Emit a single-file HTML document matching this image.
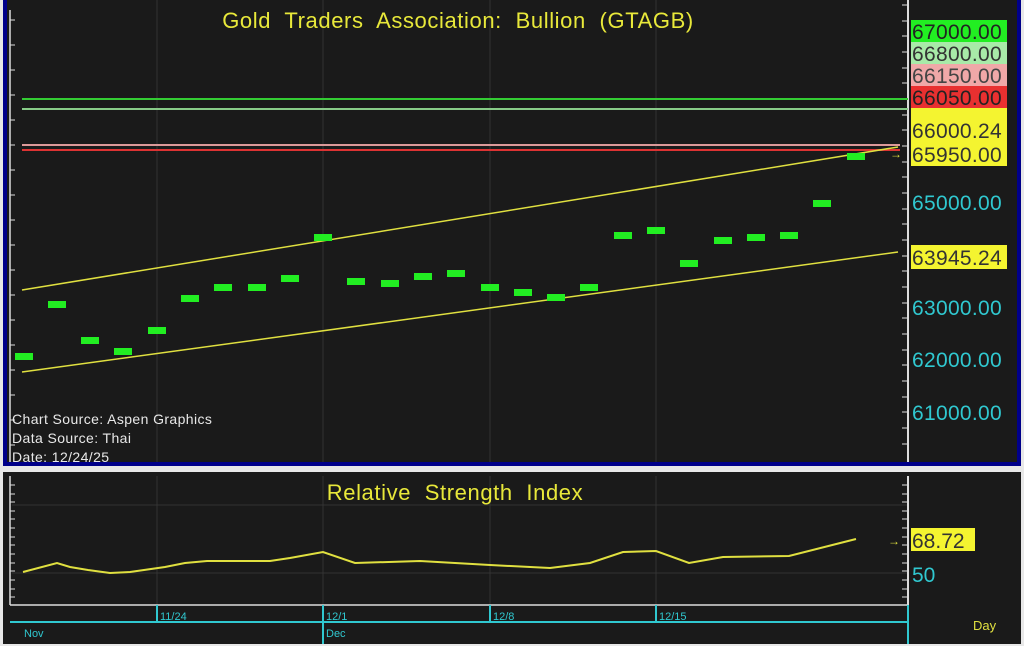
<!DOCTYPE html>
<html><head><style>
body{margin:0;background:#fff;}
svg{display:block;font-family:"Liberation Sans",sans-serif;}
</style></head><body>
<svg width="1024" height="646" viewBox="0 0 1024 646">
<rect x="0" y="0" width="1024" height="646" fill="#e8e8e8"/>
<rect x="3" y="0" width="1018" height="466" fill="#00008a"/>
<rect x="7" y="0" width="1010" height="462" fill="#1a1a1a"/>
<g stroke="#333" stroke-width="1">
<line x1="157" y1="0" x2="157" y2="462"/><line x1="323" y1="0" x2="323" y2="462"/>
<line x1="490" y1="0" x2="490" y2="462"/><line x1="656" y1="0" x2="656" y2="462"/>
</g>
<line x1="908" y1="0" x2="908" y2="462" stroke="#ddd" stroke-width="2"/>
<line x1="10" y1="10" x2="10" y2="462" stroke="#ddd" stroke-width="1.5"/>
<g stroke="#ddd" stroke-width="1">
<path d="M902 5h6M902 21h6M902 36h6M902 52h6M902 68h6M902 83h6M902 99h6M902 115h6M902 130h6M902 146h6M902 162h6M902 177h6M902 193h6M902 209h6M902 224h6M902 240h6M902 256h6M902 271h6M902 287h6M902 303h6M902 318h6M902 334h6M902 350h6M902 365h6M902 381h6M902 397h6M902 412h6M902 428h6M902 444h6"/>
<path d="M10 20h5M10 45h5M10 70h5M10 95h5M10 120h5M10 145h5M10 170h5M10 195h5M10 220h5M10 245h5M10 270h5M10 295h5M10 320h5M10 345h5M10 370h5M10 395h5M10 420h5M10 445h5"/>
</g>
<text x="458" y="28" fill="#e8e83a" font-size="22" text-anchor="middle" word-spacing="7" letter-spacing="0.6">Gold Traders Association: Bullion (GTAGB)</text>
<line x1="22" y1="99" x2="908" y2="99" stroke="#3c3" stroke-width="2"/>
<line x1="22" y1="109" x2="908" y2="109" stroke="#8c8" stroke-width="2"/>
<line x1="22" y1="145" x2="900" y2="145" stroke="#d99" stroke-width="2"/>
<line x1="22" y1="150" x2="900" y2="150" stroke="#d33" stroke-width="2"/>
<line x1="22" y1="290" x2="898" y2="147" stroke="#e0e040" stroke-width="1.5"/>
<line x1="22" y1="372" x2="898" y2="252" stroke="#e0e040" stroke-width="1.5"/>
<text x="902" y="158" fill="#e0e040" font-size="12" text-anchor="end">→</text>
<g fill="#22ee22">
<rect x="15" y="353" width="18" height="7"/><rect x="48" y="301" width="18" height="7"/><rect x="81" y="337" width="18" height="7"/><rect x="114" y="348" width="18" height="7"/><rect x="148" y="327" width="18" height="7"/><rect x="181" y="295" width="18" height="7"/><rect x="214" y="284" width="18" height="7"/><rect x="248" y="284" width="18" height="7"/><rect x="281" y="275" width="18" height="7"/><rect x="314" y="234" width="18" height="7"/><rect x="347" y="278" width="18" height="7"/><rect x="381" y="280" width="18" height="7"/><rect x="414" y="273" width="18" height="7"/><rect x="447" y="270" width="18" height="7"/><rect x="481" y="284" width="18" height="7"/><rect x="514" y="289" width="18" height="7"/><rect x="547" y="294" width="18" height="7"/><rect x="580" y="284" width="18" height="7"/><rect x="614" y="232" width="18" height="7"/><rect x="647" y="227" width="18" height="7"/><rect x="680" y="260" width="18" height="7"/><rect x="714" y="237" width="18" height="7"/><rect x="747" y="234" width="18" height="7"/><rect x="780" y="232" width="18" height="7"/><rect x="813" y="200" width="18" height="7"/><rect x="847" y="153" width="18" height="7"/>
</g>
<g font-size="21" letter-spacing="0.3">
<rect x="911" y="20" width="96" height="22" fill="#22ee22"/><text x="912" y="39" fill="#222">67000.00</text>
<rect x="911" y="42" width="96" height="22" fill="#a8eaa8"/><text x="912" y="61" fill="#333">66800.00</text>
<rect x="911" y="64" width="96" height="22" fill="#f0a8a8"/><text x="912" y="83" fill="#444">66150.00</text>
<rect x="911" y="86" width="96" height="22" fill="#e83030"/><text x="912" y="105" fill="#222">66050.00</text>
<rect x="911" y="108" width="96" height="58" fill="#f4f430"/><text x="912" y="138" fill="#333">66000.24</text><text x="912" y="162" fill="#333">65950.00</text>
<text x="912" y="210" fill="#30c8d0">65000.00</text>
<rect x="911" y="245" width="96" height="24" fill="#f4f430"/><text x="912" y="265" fill="#333">63945.24</text>
<text x="912" y="315" fill="#30c8d0">63000.00</text>
<text x="912" y="367" fill="#30c8d0">62000.00</text>
<text x="912" y="420" fill="#30c8d0">61000.00</text>
</g>
<g font-size="14" fill="#e8e8e8" letter-spacing="0.4">
<text x="12" y="424">Chart Source: Aspen Graphics</text>
<text x="12" y="443">Data Source: Thai</text>
<text x="12" y="462">Date: 12/24/25</text>
</g>
<rect x="3" y="472" width="1018" height="172" fill="#1a1a1a"/>
<g stroke="#333"><line x1="157" y1="476" x2="157" y2="605"/><line x1="323" y1="476" x2="323" y2="605"/><line x1="490" y1="476" x2="490" y2="605"/><line x1="656" y1="476" x2="656" y2="605"/><line x1="12" y1="573" x2="908" y2="573"/><line x1="12" y1="505" x2="908" y2="505"/></g>
<line x1="10" y1="476" x2="10" y2="605" stroke="#ddd" stroke-width="1.5"/>
<line x1="10" y1="605" x2="908" y2="605" stroke="#ddd" stroke-width="1.5"/>
<line x1="908" y1="476" x2="908" y2="605" stroke="#ddd" stroke-width="2"/>
<g stroke="#ddd"><path d="M10 485h5M10 494h5M10 502h5M10 511h5M10 519h5M10 528h5M10 537h5M10 545h5M10 554h5M10 563h5M10 571h5M10 580h5M10 589h5M10 597h5"/>
<path d="M902 485h6M902 494h6M902 502h6M902 511h6M902 519h6M902 528h6M902 537h6M902 545h6M902 554h6M902 563h6M902 571h6M902 580h6M902 589h6M902 597h6"/></g>
<text x="455" y="500" fill="#e8e83a" font-size="22" text-anchor="middle" word-spacing="7" letter-spacing="0.6">Relative Strength Index</text>
<polyline fill="none" stroke="#e0e040" stroke-width="2" points="23,572 57,563 70,567 88,570 110,573 130,572 165,567 185,563 207,561 270,561 290,558 323,552 355,563 420,561 490,565 550,568 590,563 623,552 656,551 689,563 723,557 789,556 856,539"/>
<text x="900" y="545" fill="#e0e040" font-size="12" text-anchor="end">→</text>
<rect x="911" y="528" width="64" height="23" fill="#f4f430"/><text x="912" y="548" fill="#333" font-size="21">68.72</text>
<text x="912" y="582" fill="#30c8d0" font-size="21">50</text>
<g stroke="#30c8d0" stroke-width="2"><line x1="10" y1="622" x2="908" y2="622"/><line x1="908" y1="605" x2="908" y2="644"/>
<line x1="157" y1="605" x2="157" y2="622"/><line x1="323" y1="605" x2="323" y2="644"/><line x1="490" y1="605" x2="490" y2="622"/><line x1="656" y1="605" x2="656" y2="622"/></g>
<g fill="#30c8d0" font-size="11"><text x="160" y="620">11/24</text><text x="326" y="620">12/1</text><text x="493" y="620">12/8</text><text x="659" y="620">12/15</text><text x="24" y="637">Nov</text><text x="326" y="637">Dec</text></g>
<text x="973" y="630" fill="#e0e040" font-size="13">Day</text>
</svg>
</body></html>
